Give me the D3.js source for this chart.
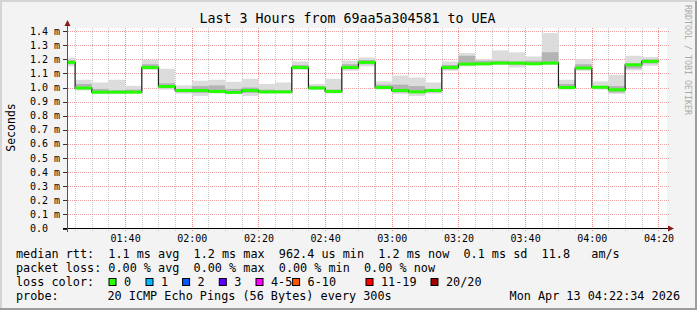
<!DOCTYPE html>
<html>
<head>
<meta charset="utf-8">
<script src="https://cdn.jsdelivr.net/npm/d3@7"></script>
<style>
  body { margin: 0; background: #f3f3f3; }
  svg { display: block; }
  text { font-family: "DejaVu Sans Mono", monospace; fill: #000; }
</style>
</head>
<body>
<svg id="drawing_region"></svg>
<script>
// ---- data (values in ms) ----
const title = "Last 3 Hours from 69aa5a304581 to UEA";
const startTime = Date.UTC(2026, 3, 13, 1, 22, 34);
const endTime = Date.UTC(2026, 3, 13, 4, 22, 34);
const firstStepEnd = Date.UTC(2026, 3, 13, 1, 25, 0);
const stepMinutes = 5;

const median = [1.178, 0.996, 0.967, 0.967, 0.967, 1.142, 1.007, 0.979, 0.979, 0.972,
                0.965, 0.979, 0.969, 0.969, 1.142, 0.996, 0.972, 1.142, 1.178, 1.000,
                0.979, 0.969, 0.979, 1.142, 1.166, 1.168, 1.173, 1.173, 1.168, 1.173,
                1.000, 1.138, 1.002, 0.984, 1.161, 1.185];
const smokeLo = [1.150, 0.979, 0.953, 0.953, 0.957, 1.125, 0.985, 0.957, 0.940, 0.957,
                 0.957, 0.940, 0.957, 0.957, 1.125, 0.985, 0.957, 1.119, 1.150, 0.985,
                 0.955, 0.940, 0.957, 1.119, 1.150, 1.155, 1.160, 1.142, 1.160, 1.160,
                 0.985, 1.119, 0.985, 0.955, 1.121, 1.154];
const smokeHi = [1.210, 1.055, 1.036, 1.055, 1.012, 1.197, 1.133, 1.015, 1.048, 1.055,
                 1.040, 1.062, 1.025, 1.036, 1.185, 1.025, 1.062, 1.190, 1.213, 1.043,
                 1.085, 1.071, 1.036, 1.185, 1.244, 1.200, 1.263, 1.249, 1.220, 1.386,
                 1.055, 1.200, 1.043, 1.090, 1.225, 1.216];
const coreLo = [1.165, 0.990, 0.960, 0.960, 0.962, 1.135, 0.995, 0.965, 0.962, 0.962,
                0.960, 0.962, 0.962, 0.962, 1.135, 0.990, 0.962, 1.130, 1.165, 0.992,
                0.965, 0.960, 0.965, 1.128, 1.160, 1.160, 1.165, 1.160, 1.162, 1.165,
                0.992, 1.130, 0.992, 0.965, 1.135, 1.170];
const coreHi = [1.195, 1.025, 0.990, 0.980, 0.985, 1.165, 1.030, 0.990, 1.010, 1.015,
                0.990, 1.000, 0.985, 0.980, 1.160, 1.010, 0.985, 1.165, 1.195, 1.020,
                1.020, 1.010, 0.990, 1.160, 1.225, 1.190, 1.190, 1.185, 1.190, 1.250,
                1.025, 1.165, 1.010, 1.010, 1.170, 1.200];
const loss = [0, 0, 0, 0, 0, 0, 0, 0, 0, 0, 0, 0, 0, 0, 0, 0, 0, 0,
              0, 0, 0, 0, 0, 0, 0, 0, 0, 0, 0, 0, 0, 0, 0, 0, 0, 0];

const yTicks = [0, 0.1, 0.2, 0.3, 0.4, 0.5, 0.6, 0.7, 0.8, 0.9, 1.0, 1.1, 1.2, 1.3, 1.4];
const lossLabels = ["0", "1", "2", "3", "4-5", "6-10", "11-19", "20/20"];
const lossColors = ["#26ff00", "#00b8ff", "#0059ff", "#5e00ff", "#ff00fe", "#ff5500", "#ff0000", "#a10000"];

const rttLine = "median rtt:  1.1 ms avg  1.2 ms max  962.4 us min  1.2 ms now  0.1 ms sd  11.8   am/s";
const lossLine = "packet loss: 0.00 % avg  0.00 % max  0.00 % min  0.00 % now";
const probeLabel = "probe:";
const probeText = "20 ICMP Echo Pings (56 Bytes) every 300s";
const stamp = "Mon Apr 13 04:22:34 2026";

// ---- drawing ----
const W = 697, H = 310;
const plot = { left: 67, right: 667, top: 28, bottom: 228 };

const svg = d3.select('#drawing_region')
    .attr('width', W)
    .attr('height', H);

// frame
svg.append('rect').attr('width', W).attr('height', H).attr('fill', '#f3f3f3');
svg.append('path').attr('d', `M1,${H} V1 H${W}`).attr('stroke', '#d4d4d4').attr('stroke-width', 2).attr('fill', 'none');
svg.append('path').attr('d', `M${W-1},1 V${H-1} H0`).attr('stroke', '#9c9c9c').attr('stroke-width', 2).attr('fill', 'none');

svg.append('rect')
    .attr('x', plot.left).attr('y', plot.top)
    .attr('width', plot.right - plot.left).attr('height', plot.bottom - plot.top)
    .attr('fill', '#fff');

const xscale = d3.scaleUtc()
    .domain([startTime, endTime])
    .range([plot.left, plot.right]);

const yscale = d3.scaleLinear()
    .domain([0, 200 / 141])
    .range([plot.bottom + 0.5, plot.top + 0.5]);

// grid
const grid = svg.append('g');
const minorTimes = d3.utcMinute.every(5).range(new Date(startTime), new Date(endTime));
const majorTimes = d3.utcMinute.every(20).range(new Date(startTime), new Date(endTime));
const isMajor = t => t.getUTCMinutes() % 20 === 0;

grid.selectAll('.vminor')
    .data(minorTimes.filter(t => !isMajor(t)))
    .join('line')
    .attr('x1', d => Math.round(xscale(d)) + 0.5).attr('x2', d => Math.round(xscale(d)) + 0.5)
    .attr('y1', plot.top).attr('y2', plot.bottom + 3)
    .attr('stroke', '#c8c8c8').attr('stroke-dasharray', '1,1');

grid.selectAll('.vmajor')
    .data(majorTimes)
    .join('line')
    .attr('x1', d => Math.round(xscale(d)) + 0.5).attr('x2', d => Math.round(xscale(d)) + 0.5)
    .attr('y1', plot.top).attr('y2', plot.bottom + 3)
    .attr('stroke', '#f09090').attr('stroke-dasharray', '1,1');

grid.selectAll('.hmajor')
    .data(yTicks.slice(1))
    .join('line')
    .attr('x1', plot.left - 3).attr('x2', plot.right + 2)
    .attr('y1', d => Math.round(yscale(d)) + 0.5).attr('y2', d => Math.round(yscale(d)) + 0.5)
    .attr('stroke', '#e8a0a0').attr('stroke-dasharray', '1,1');

// y ticks + labels
svg.selectAll('.ytick')
    .data(yTicks)
    .join('line')
    .attr('x1', plot.left - 4).attr('x2', plot.left)
    .attr('y1', d => Math.round(yscale(d)) + 0.5).attr('y2', d => Math.round(yscale(d)) + 0.5)
    .attr('stroke', '#333');

svg.selectAll('.ylabel')
    .data(yTicks)
    .join('text')
    .attr('x', 30)
    .attr('y', d => yscale(d) + 3.5)
    .attr('font-size', '10px')
    .text(d => d === 0 ? d.toFixed(1) : d.toFixed(1) + ' m');

svg.selectAll('.xlabel')
    .data(majorTimes)
    .join('text')
    .attr('x', d => xscale(d) + 0.5)
    .attr('y', 241.5)
    .attr('font-size', '10px')
    .attr('text-anchor', 'middle')
    .text(d => d3.utcFormat('%H:%M')(d));

// smoke + median
const steps = median.map((m, i) => {
    const t1 = firstStepEnd + i * stepMinutes * 60000;
    const t0 = Math.max(startTime, t1 - stepMinutes * 60000);
    return { t0, t1, m, lo: smokeLo[i], hi: smokeHi[i], clo: coreLo[i], chi: coreHi[i], loss: loss[i] };
});

const chart = svg.append('g');
chart.selectAll('.smoke')
    .data(steps)
    .join('rect')
    .attr('x', d => xscale(d.t0)).attr('width', d => xscale(d.t1) - xscale(d.t0))
    .attr('y', d => yscale(d.hi)).attr('height', d => yscale(d.lo) - yscale(d.hi))
    .attr('fill', '#dcdcdc');

chart.selectAll('.core')
    .data(steps)
    .join('rect')
    .attr('x', d => xscale(d.t0)).attr('width', d => xscale(d.t1) - xscale(d.t0))
    .attr('y', d => yscale(d.chi)).attr('height', d => yscale(d.clo) - yscale(d.chi))
    .attr('fill', '#b4b4b4');

const medLine = d3.line()
    .x(d => xscale(d.t))
    .y(d => yscale(d.v))
    .curve(d3.curveStepAfter);
const medPts = steps.map(d => ({ t: d.t0, v: d.m }));
medPts.push({ t: steps[steps.length - 1].t1, v: steps[steps.length - 1].m });

chart.append('path')
    .attr('d', medLine(medPts))
    .attr('fill', 'none')
    .attr('stroke', '#202020')
    .attr('stroke-width', 1.2);

chart.selectAll('.med')
    .data(steps)
    .join('rect')
    .attr('x', d => xscale(d.t0)).attr('width', d => xscale(d.t1) - xscale(d.t0))
    .attr('y', d => yscale(d.m) - 1.5).attr('height', 3)
    .attr('fill', d => lossColors[d.loss]);

// axes
svg.append('line')
    .attr('x1', plot.left - 4).attr('x2', plot.right + 3)
    .attr('y1', plot.bottom + 0.5).attr('y2', plot.bottom + 0.5)
    .attr('stroke', '#000');
svg.append('line')
    .attr('x1', plot.left + 0.5).attr('x2', plot.left + 0.5)
    .attr('y1', plot.bottom + 4).attr('y2', plot.top - 3)
    .attr('stroke', '#555');
svg.append('path')
    .attr('d', `M${plot.left + 0.5},${plot.top - 8} l3,6 h-6 z`)
    .attr('fill', '#8b1a1a');
svg.append('path')
    .attr('d', `M${plot.right + 7},${plot.bottom + 0.5} l-6,-3 v6 z`)
    .attr('fill', '#8b1a1a');

// titles
svg.append('text')
    .attr('x', 347.5).attr('y', 23)
    .attr('font-size', '13.3px')
    .attr('text-anchor', 'middle')
    .text(title);

svg.append('text')
    .attr('transform', 'translate(14.5,127.5) rotate(-90)')
    .attr('text-anchor', 'middle')
    .attr('font-family', '"DejaVu Sans", sans-serif')
    .attr('font-size', '11.5px')
    .text('Seconds');

svg.append('text')
    .attr('transform', 'translate(685,5) rotate(90)')
    .attr('font-size', '8.3px')
    .style('fill', '#aaa')
    .text('RRDTOOL / TOBI OETIKER');

// legend
const legend = svg.append('g').attr('font-size', '11.8px');
legend.append('text').attr('x', 16).attr('y', 258).attr('xml:space', 'preserve').style('white-space', 'pre').text(rttLine);
legend.append('text').attr('x', 16).attr('y', 272).attr('xml:space', 'preserve').style('white-space', 'pre').text(lossLine);
legend.append('text').attr('x', 16).attr('y', 286).text('loss color:');
legend.append('text').attr('x', 16).attr('y', 300).text(probeLabel);
legend.append('text').attr('x', 107.5).attr('y', 300).text(probeText);
legend.append('text').attr('x', 680).attr('y', 300).attr('text-anchor', 'end').text(stamp);

const legendOffsets = [0, 37, 73.6, 110.3, 147, 183.6, 257, 322];
const items = legend.selectAll('.item')
    .data(lossLabels)
    .join('g')
    .attr('transform', (d, i) => `translate(${108.5 + legendOffsets[i]},0)`);
items.append('rect')
    .attr('x', 0.5).attr('y', 278.5).attr('width', 7).attr('height', 7)
    .attr('fill', (d, i) => lossColors[i])
    .attr('stroke', '#000');
items.append('text')
    .attr('x', 15.5).attr('y', 286)
    .text(d => d);
</script>
</body>
</html>
